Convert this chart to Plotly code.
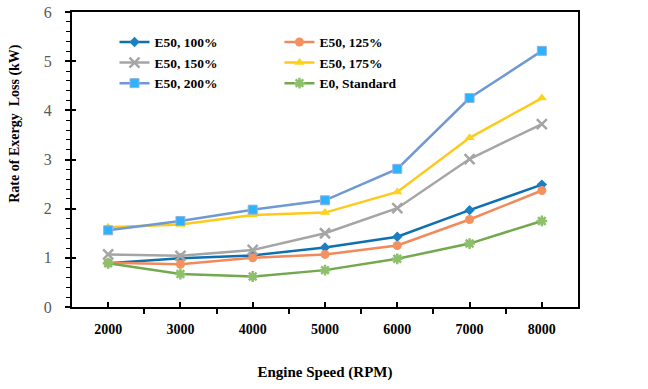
import plotly.graph_objects as go

speeds = [2000, 3000, 4000, 5000, 6000, 7000, 8000]
e50_100 = [0.89, 0.99, 1.05, 1.21, 1.43, 1.97, 2.49]
e50_125 = [0.90, 0.87, 1.00, 1.07, 1.25, 1.78, 2.37]
e50_150 = [1.07, 1.04, 1.16, 1.50, 2.01, 3.01, 3.72]
e50_175 = [1.62, 1.68, 1.87, 1.92, 2.34, 3.44, 4.25]
e50_200 = [1.56, 1.75, 1.98, 2.17, 2.81, 4.25, 5.21]
e0_std = [0.89, 0.67, 0.62, 0.75, 0.98, 1.29, 1.75]

series = [
    ("E50, 100%", e50_100, "#0E70B0", "#1B7FC4", "diamond", 8, "legend"),
    ("E50, 125%", e50_125, "#F08A5D", "#F5915F", "circle", 9, "legend2"),
    ("E50, 150%", e50_150, "#A5A5A5", "#A5A5A5", "x-thin-open", 10, "legend"),
    ("E50, 175%", e50_175, "#FFC91A", "#FFD21A", "triangle-up", 9, "legend2"),
    ("E50, 200%", e50_200, "#6F99D4", "#2DB2FF", "square", 9, "legend"),
    ("E0, Standard", e0_std, "#72A94E", "#8CC06A", "asterisk-open", 9, "legend2"),
]

fig = go.Figure()
for name, vals, lc, mc, sym, ms, lg in series:
    marker = dict(symbol=sym, size=ms, color=mc)
    if sym in ("x-thin-open", "asterisk-open"):
        marker["line"] = dict(color=mc, width=2.5)
    elif sym == "square":
        marker["line"] = dict(color="#8FB3E0", width=1)
    else:
        marker["line"] = dict(color=mc, width=0)
    fig.add_trace(go.Scatter(
        x=speeds, y=vals, name=name, mode="lines+markers",
        line=dict(color=lc, width=2.5), marker=marker, legend=lg,
    ))

# helper trace so the overlay axis (inside half of the crossing major ticks) is drawn
fig.add_trace(go.Scatter(x=[None], y=[None], yaxis="y2", showlegend=False,
                         hoverinfo="skip", mode="lines"))

legend_font = dict(family="Liberation Serif", size=13.5, color="#000000", weight="bold")
fig.update_layout(
    width=648, height=389,
    margin=dict(l=72, r=70, t=12, b=82, autoexpand=False),
    paper_bgcolor="white", plot_bgcolor="white",
    font=dict(family="Liberation Serif", size=14, color="#000000"),
    legend=dict(x=0.084, y=0.95, xanchor="left", yanchor="top",
                font=legend_font, bgcolor="rgba(0,0,0,0)",
                tracegroupgap=0, itemwidth=30),
    legend2=dict(x=0.41, y=0.95, xanchor="left", yanchor="top",
                 font=legend_font, bgcolor="rgba(0,0,0,0)",
                 tracegroupgap=0, itemwidth=30),
    xaxis=dict(
        range=[1500, 8500], tickmode="array", tickvals=speeds,
        ticktext=[str(s) for s in speeds],
        ticks="inside", ticklen=5, tickwidth=1.5, tickcolor="black",
        ticklabelstandoff=8, automargin=False, ticklabeloverflow="allow",
        minor=dict(tickmode="array", tickvals=[1500, 2500, 3500, 4500, 5500, 6500, 7500, 8500],
                   ticks="outside", ticklen=5, tickwidth=1.5, tickcolor="black"),
        showgrid=False, zeroline=False,
        showline=True, linecolor="black", linewidth=2, mirror=True,
        tickfont=dict(family="Liberation Serif", size=14, color="black", weight="bold"),
        title=dict(text="<b>Engine Speed (RPM)</b>", standoff=31,
                   font=dict(family="Liberation Serif", size=15, color="black")),
    ),
    yaxis=dict(
        range=[0, 6], tickmode="linear", tick0=0, dtick=1,
        ticks="outside", ticklen=5, tickwidth=1.5, tickcolor="black",
        ticklabelstandoff=10, automargin=False, ticklabeloverflow="allow",
        minor=dict(tick0=0, dtick=0.2, ticks="outside", ticklen=4, tickwidth=1.2, tickcolor="black"),
        showgrid=False, zeroline=False,
        showline=True, linecolor="black", linewidth=2, mirror=True,
        tickfont=dict(family="Liberation Serif", size=16, color="#595959"),
    ),
    yaxis2=dict(
        range=[0, 6], tickmode="linear", tick0=0, dtick=1, overlaying="y", side="left",
        ticks="inside", ticklen=4, tickwidth=1.5, tickcolor="black",
        showticklabels=False, showgrid=False, zeroline=False, showline=False,
        automargin=False,
    ),
    annotations=[dict(
        text="<b>Rate of Exergy  Loss (kW)</b>", textangle=-90,
        xref="paper", yref="paper", x=-0.113, y=0.624,
        xanchor="center", yanchor="middle", showarrow=False,
        font=dict(family="Liberation Serif", size=14, color="black"),
    )],
)

fig.write_html("out.html",
               config={"displayModeBar": False},
               post_script="document.body.style.margin='0';document.body.style.overflow='hidden';")
